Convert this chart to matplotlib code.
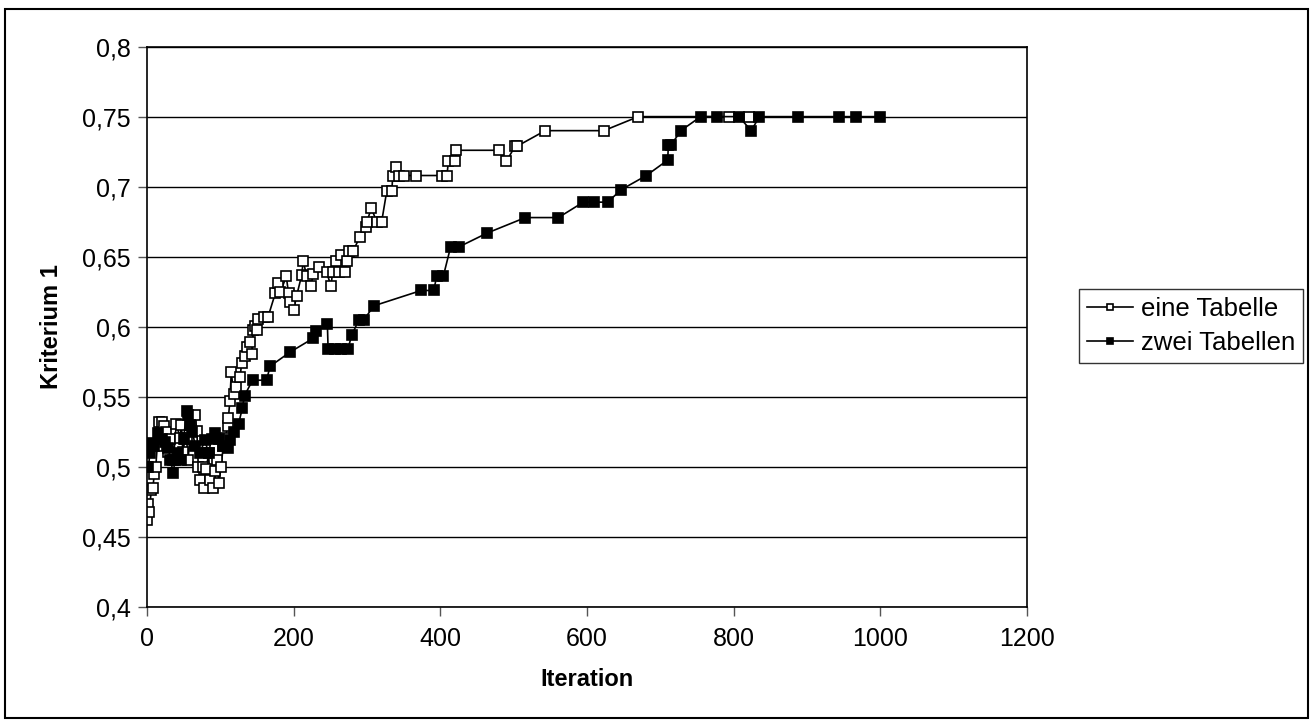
import numpy as np
import matplotlib.pyplot as plt
from matplotlib.patches import Rectangle

plt.rcParams['font.family'] = ['Liberation Sans', 'DejaVu Sans']

# eine Tabelle (open squares)
it_eine = [0, 1, 3, 6, 8, 10, 12, 14, 16, 21, 23, 26, 29, 32, 36, 40, 45, 47, 49, 52,
           54, 56, 60, 65, 68, 70, 72, 76, 78, 81, 84, 86, 90, 93, 96, 98, 101, 104, 107, 110,
           111, 113, 115, 118, 122, 127, 129, 134, 136, 140, 143, 145, 147, 150, 152, 159, 165, 175, 179, 182,
           190, 193, 195, 200, 204, 211, 213, 218, 223, 227, 235, 245, 251, 253, 258, 262, 265, 270, 273, 275,
           281, 290, 298, 300, 306, 313, 320, 327, 334, 335, 340, 344, 350, 367, 402, 409, 411, 420, 422, 480,
           490, 502, 505, 543, 623, 670, 793, 821]
k_eine = [0.462, 0.474, 0.468, 0.484, 0.485, 0.495, 0.5, 0.515, 0.532, 0.532, 0.529, 0.525, 0.511, 0.52, 0.505, 0.531, 0.521, 0.53, 0.511, 0.52,
          0.521, 0.505, 0.53, 0.537, 0.526, 0.5, 0.491, 0.5, 0.485, 0.499, 0.51, 0.491, 0.485, 0.497, 0.505, 0.489, 0.5, 0.515, 0.521, 0.529,
          0.535, 0.547, 0.568, 0.552, 0.557, 0.564, 0.574, 0.579, 0.586, 0.589, 0.581, 0.598, 0.601, 0.598, 0.606, 0.607, 0.607, 0.624, 0.631, 0.625,
          0.636, 0.624, 0.618, 0.612, 0.622, 0.637, 0.647, 0.636, 0.629, 0.638, 0.643, 0.639, 0.629, 0.639, 0.647, 0.639, 0.651, 0.639, 0.647, 0.654,
          0.654, 0.664, 0.671, 0.675, 0.685, 0.675, 0.675, 0.697, 0.697, 0.708, 0.714, 0.708, 0.708, 0.708, 0.708, 0.708, 0.718, 0.718, 0.726, 0.726,
          0.718, 0.729, 0.729, 0.74, 0.74, 0.75, 0.75, 0.75]

# zwei Tabellen (filled squares)
it_zwei = [0, 2, 4, 6, 10, 15, 20, 25, 29, 32, 36, 38, 42, 46, 50, 54, 56, 58, 62, 66,
           72, 79, 84, 88, 93, 98, 104, 111, 113, 118, 125, 130, 133, 144, 163, 168, 195, 227, 231, 246,
           247, 256, 265, 274, 279, 289, 296, 309, 374, 391, 395, 404, 414, 425, 464, 516, 561, 595, 609, 628,
           647, 681, 710, 711, 715, 728, 755, 777, 807, 824, 835, 888, 944, 967, 1000]
k_zwei = [0.5, 0.5, 0.51, 0.517, 0.515, 0.524, 0.52, 0.518, 0.514, 0.505, 0.496, 0.505, 0.51, 0.505, 0.52, 0.54, 0.537, 0.53, 0.525, 0.515,
          0.51, 0.519, 0.51, 0.52, 0.524, 0.52, 0.515, 0.514, 0.519, 0.525, 0.531, 0.542, 0.551, 0.562, 0.562, 0.572, 0.582, 0.592, 0.597, 0.602,
          0.584, 0.584, 0.584, 0.584, 0.594, 0.605, 0.605, 0.615, 0.626, 0.626, 0.636, 0.636, 0.657, 0.657, 0.667, 0.678, 0.678, 0.689, 0.689, 0.689,
          0.698, 0.708, 0.719, 0.73, 0.73, 0.74, 0.75, 0.75, 0.75, 0.74, 0.75, 0.75, 0.75, 0.75, 0.75]

yticks = [0.4, 0.45, 0.5, 0.55, 0.6, 0.65, 0.7, 0.75, 0.8]
ytick_labels = ['0,4', '0,45', '0,5', '0,55', '0,6', '0,65', '0,7', '0,75', '0,8']
xticks = [0, 200, 400, 600, 800, 1000, 1200]

fig = plt.figure(figsize=(13.11, 7.27), dpi=100)
ax = fig.add_axes([0.1121, 0.1646, 0.6713, 0.7714])

ax.plot(it_eine, k_eine, color='black', lw=1.2, marker='s', ms=6.5,
        mfc='white', mec='black', mew=1.2, label='eine Tabelle')
ax.plot(it_zwei, k_zwei, color='black', lw=1.2, marker='s', ms=6.5,
        mfc='black', mec='black', mew=1.2, label='zwei Tabellen')

ax.set_xlim(0, 1200)
ax.set_ylim(0.4, 0.8)
ax.set_xticks(xticks)
ax.set_yticks(yticks)
ax.set_yticklabels(ytick_labels)
ax.yaxis.grid(True, color='black', lw=1)
ax.set_axisbelow(True)
ax.tick_params(direction='out', length=6.5, width=1, labelsize=18, color='#555555')
ax.tick_params(axis='y', pad=5)
ax.tick_params(axis='x', pad=8)
for s in ax.spines.values():
    s.set_color('black')
    s.set_linewidth(1.2)

ax.set_xlabel('Iteration', fontsize=17, fontweight='bold', labelpad=12)
ax.set_ylabel('Kriterium 1', fontsize=17, fontweight='bold', labelpad=14)

leg = fig.legend(loc='center left', bbox_to_anchor=(1079 / 1311, 1 - 326 / 727),
                 fontsize=18.5, frameon=True, fancybox=False, handlelength=1.8,
                 handletextpad=0.3, borderpad=0.3, labelspacing=0.4, borderaxespad=0)
leg.get_frame().set_edgecolor('black')
leg.get_frame().set_linewidth(1)
for h in leg.legend_handles:
    h.set_markersize(5)

fig.patches.append(Rectangle((5 / 1311, 1 - 718 / 727), 1303 / 1311, 709 / 727,
                             transform=fig.transFigure, fill=False,
                             edgecolor='black', lw=1.5))

plt.savefig('out.png', dpi=100)
